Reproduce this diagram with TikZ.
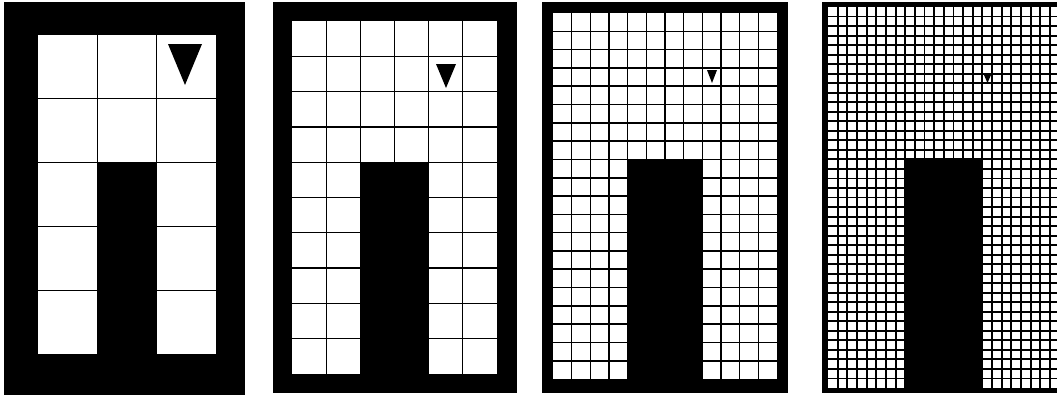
\documentclass[tikz,border=0pt]{standalone}
\begin{document}
\begin{tikzpicture}[x=1pt,y=-1pt,
  border/.style={fill=black},
  cellarea/.style={fill=white},
  gridline/.style={draw=black},
  pillar/.style={fill=black},
  marker/.style={fill=black}]
\useasboundingbox (0,0) rectangle (1057,397);
\clip (0,0) rectangle (1057,397);
\fill[white] (0,0) rectangle (1057,397);
\foreach \ox/\oy/\OX/\OY/\ix/\iy/\IX/\IY/\nc/\nr/\lw in {
  4/2/245/395/38/35/216/354/3/5/1.1,
  273/2/517/393/292/21/497/374/6/10/1.3,
  542/2/788/393/553/13/777/379/12/20/1.6,
  822/2/1075/393/828/7/1059.6/388/24/40/1.9}{
  \pgfmathsetmacro\cw{(\IX-\ix)/\nc}
  \pgfmathsetmacro\ch{(\IY-\iy)/\nr}
  \pgfmathtruncatemacro\ncm{\nc-1}
  \pgfmathtruncatemacro\nrm{\nr-1}
  \fill[border] (\ox,\oy) rectangle (\OX,\OY);
  \fill[cellarea] (\ix,\iy) rectangle (\IX,\IY);
  \foreach \i in {1,...,\ncm}{
    \draw[gridline,line width=\lw pt] ({\ix+\i*\cw},\iy) -- ({\ix+\i*\cw},\IY);
  }
  \foreach \j in {1,...,\nrm}{
    \draw[gridline,line width=\lw pt] (\ix,{\iy+\j*\ch}) -- (\IX,{\iy+\j*\ch});
  }
  \fill[pillar] ({\ix+\nc/3*\cw-\lw/2},{\iy+2*\nr/5*\ch-\lw/2}) rectangle ({\ix+2*\nc/3*\cw+\lw/2},\OY);
}
\fill[marker] (168,44) -- (202,44) -- (185,85) -- cycle;
\fill[marker] (436,64) -- (456,64) -- (446,88) -- cycle;
\fill[marker] (707,70) -- (717,70) -- (712,83) -- cycle;
\fill[marker] (984,75) -- (991,75) -- (987.5,83) -- cycle;
\end{tikzpicture}
\end{document}
